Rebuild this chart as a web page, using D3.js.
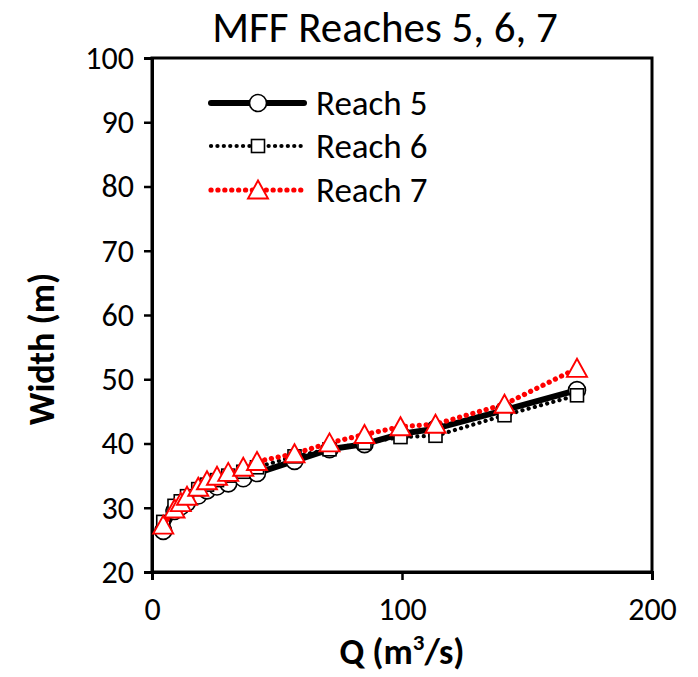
<!DOCTYPE html>
<html><head><meta charset="utf-8">
<script src="https://cdn.jsdelivr.net/npm/d3@7/dist/d3.min.js"></script>
<style>body{margin:0;background:#fff}</style>
</head><body>
<svg id="chart" width="698" height="677"></svg>
<script>
const qValues = [4.5, 9, 11.5, 14, 18.5, 22, 26, 30.5, 36.5, 42, 57, 71, 85, 99.4, 113.4, 141, 170];
const reach5 = [26.4, 29.5, 30.2, 30.8, 31.9, 32.7, 33.3, 33.8, 34.6, 35.4, 37.3, 39.1, 39.9, 41.5, 42.3, 45.2, 48.3];
const reach6 = [27.8, 30.3, 31.0, 31.8, 32.9, 33.6, 34.3, 35.0, 35.6, 36.3, 38.0, 39.1, 40.1, 41.0, 41.2, 44.4, 47.5];
const reach7 = [27.3, 29.8, 30.8, 31.8, 33.2, 34.2, 34.9, 35.5, 36.3, 37.2, 38.4, 40.1, 41.4, 42.6, 43.0, 46.1, 51.7];
const seriesNames = ["Reach 5", "Reach 6", "Reach 7"];
const xTicks = [0, 100, 200];
const yTicks = [20, 30, 40, 50, 60, 70, 80, 90, 100];
const title = "MFF Reaches 5, 6, 7";

const FONT = "Carlito, Calibri, Lato, 'Open Sans', 'Liberation Sans', sans-serif";
const svg = d3.select("#chart");
const L = 152, R = 652, T = 58, B = 572;
const x = d3.scaleLinear().domain([0, 200]).range([L, R]);
const y = d3.scaleLinear().domain([20, 100]).range([B, T]);

svg.append("text").attr("x", 385).attr("y", 42).attr("text-anchor", "middle")
  .attr("font-family", FONT).attr("font-size", 43).text(title);

svg.append("rect").attr("x", L).attr("y", T).attr("width", R - L).attr("height", B - T)
  .attr("fill", "none").attr("stroke", "#000").attr("stroke-width", 3);

const xAxis = svg.append("g").attr("transform", `translate(0,${B})`)
  .call(d3.axisBottom(x).tickValues(xTicks).tickSize(8).tickFormat(d3.format("d")));
const yAxis = svg.append("g").attr("transform", `translate(${L},0)`)
  .call(d3.axisLeft(y).tickValues(yTicks).tickSize(8).tickPadding(10).tickFormat(d3.format("d")));
[xAxis, yAxis].forEach(g => {
  g.select(".domain").attr("stroke-width", 3);
  g.selectAll(".tick line").attr("stroke-width", 2.5);
  g.selectAll(".tick text").attr("font-family", FONT).attr("font-size", 32).attr("fill", "#000");
});
xAxis.selectAll(".tick text").attr("y", 48).attr("dy", 0);

svg.append("text").attr("transform", `translate(54,349) rotate(-90)`)
  .attr("text-anchor", "middle").attr("font-family", FONT).attr("font-weight", "bold")
  .attr("font-size", 36).text("Width (m)");
const xt = svg.append("text").attr("x", 402).attr("y", 664).attr("text-anchor", "middle")
  .attr("font-family", FONT).attr("font-weight", "bold").attr("font-size", 36);
xt.append("tspan").text("Q (m");
xt.append("tspan").attr("font-size", 23).attr("dy", -14).text("3");
xt.append("tspan").attr("dy", 14).text("/s)");

const styles = [
  {vals: reach5, color: "#000", width: 6, dash: null, marker: "circle"},
  {vals: reach6, color: "#000", width: 4.2, dash: "0.1 6.3", marker: "square"},
  {vals: reach7, color: "#ff0000", width: 5.2, dash: "0.1 6.8", marker: "triangle"}
];
const line = d3.line().x(d => x(d[0])).y(d => y(d[1]));

function drawMarker(g, type, cx, cy, color) {
  if (type === "circle") {
    g.append("circle").attr("cx", cx).attr("cy", cy).attr("r", 8.5)
      .attr("fill", "#fff").attr("stroke", color).attr("stroke-width", 1.6);
  } else if (type === "square") {
    g.append("rect").attr("x", cx - 6.5).attr("y", cy - 6.5).attr("width", 13).attr("height", 13)
      .attr("fill", "#fff").attr("stroke", color).attr("stroke-width", 1.6);
  } else {
    g.append("path").attr("d", `M${cx},${cy - 9.5}L${cx + 10},${cy + 8.5}L${cx - 10},${cy + 8.5}Z`)
      .attr("fill", "#fff").attr("stroke", color).attr("stroke-width", 1.9);
  }
}

styles.forEach(st => {
  const data = qValues.map((q, i) => [q, st.vals[i]]);
  const g = svg.append("g");
  g.append("path").datum(data).attr("d", line).attr("fill", "none")
    .attr("stroke", st.color).attr("stroke-width", st.width)
    .attr("stroke-dasharray", st.dash).attr("stroke-linecap", "round").attr("stroke-linejoin", "round");
  data.forEach(d => drawMarker(g, st.marker, x(d[0]), y(d[1]), st.color));
});

const legY = [103, 146, 190];
styles.forEach((st, i) => {
  const g = svg.append("g");
  g.append("line").attr("x1", 211).attr("x2", 304).attr("y1", legY[i]).attr("y2", legY[i])
    .attr("stroke", st.color).attr("stroke-width", st.width)
    .attr("stroke-dasharray", st.dash).attr("stroke-linecap", "round");
  drawMarker(g, st.marker, 258, legY[i], st.color);
  g.append("text").attr("x", 316).attr("y", legY[i] + 12).attr("font-family", FONT)
    .attr("font-size", 35).text(seriesNames[i]);
});
</script>
</body></html>
